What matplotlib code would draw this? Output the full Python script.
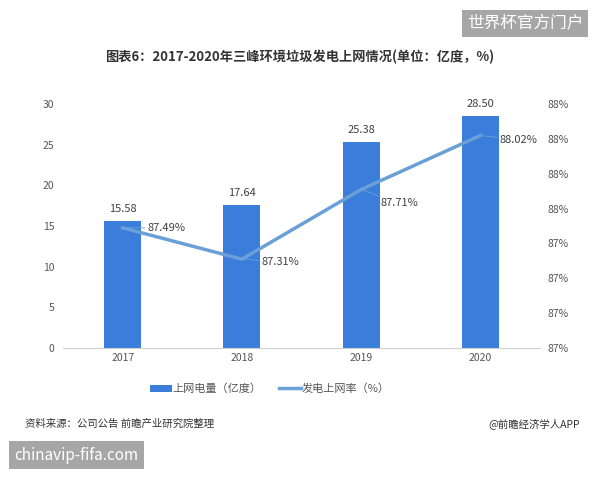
import matplotlib.pyplot as plt

plt.rcParams['font.family'] = ['Noto Sans CJK SC', 'DejaVu Sans']

years = ['2017', '2018', '2019', '2020']
power = [15.58, 17.64, 25.38, 28.50]        # 上网电量 (亿度)
rate = [87.49, 87.31, 87.71, 88.02]         # 发电上网率 (%)
rate_ticks = [86.8, 87.0, 87.2, 87.4, 87.6, 87.8, 88.0, 88.2]
# label offsets (points) for the rate labels
rate_offsets = [(18, 0), (14, -2), (14, -10), (14, -3)]

bar_color = '#3A7DDB'
line_color = '#6A9FD8'
text_color = '#555555'

fig = plt.figure(figsize=(6, 4.8), dpi=100)
ax = fig.add_axes([0.105, 0.275, 0.795, 0.508])
x = range(len(years))

ax.bar(x, power, width=0.31, color=bar_color, zorder=2, label='上网电量（亿度）')
for i, v in enumerate(power):
    ax.annotate(f'{v:.2f}', (i, v), xytext=(0, 5), textcoords='offset points',
                ha='center', va='bottom', fontsize=8, color='#404040')

ax.set_xlim(-0.5, 3.5)
ax.set_ylim(0, 30)
ax.set_yticks(range(0, 31, 5))
ax.set_xticks(list(x))
ax.set_xticklabels(years)
ax.tick_params(length=0, labelsize=7.5, labelcolor=text_color)
ax.tick_params(axis='y', pad=6)
for s in ['top', 'right', 'left']:
    ax.spines[s].set_visible(False)
ax.spines['bottom'].set_color('#D0D0D0')

ax2 = ax.twinx()
ax2.plot(x, rate, color=line_color, linewidth=2.5, zorder=3, label='发电上网率（%）')
for i, v in enumerate(rate):
    ax2.annotate(f'{v:.2f}%', (i, v), xytext=rate_offsets[i], textcoords='offset points',
                 ha='left', va='center', fontsize=8, color='#404040',
                 arrowprops=dict(arrowstyle='-', color=line_color, lw=0.6,
                                 shrinkA=0, shrinkB=0))
ax2.set_ylim(86.8, 88.2)
ax2.set_yticks(rate_ticks)
ax2.set_yticklabels([f'{t:.0f}%' for t in rate_ticks])
ax2.tick_params(length=0, labelsize=7.5, labelcolor=text_color, pad=5.5)
for s in ax2.spines.values():
    s.set_visible(False)

h1, l1 = ax.get_legend_handles_labels()
h2, l2 = ax2.get_legend_handles_labels()
fig.legend(h1 + h2, l1 + l2, loc='center', bbox_to_anchor=(0.45, 0.19), ncol=2,
           frameon=False, fontsize=8, labelcolor=text_color, handlelength=1.9,
           handleheight=0.6, handletextpad=0.1, columnspacing=1.6)

fig.text(0.5, 0.882, '图表6：2017-2020年三峰环境垃圾发电上网情况(单位：亿度，%)',
         ha='center', va='center', fontsize=9.5, fontweight='bold', color='#333333')
fig.text(0.042, 0.118, '资料来源：公司公告 前瞻产业研究院整理', ha='left', va='center',
         fontsize=7.5, color='#333333')
fig.text(0.967, 0.118, '@前瞻经济学人APP', ha='right', va='center',
         fontsize=7.5, color='#333333')

# overlay badges
fig.text(0.875, 0.952, '世界杯官方门户', ha='center', va='center', fontsize=12,
         color='white', bbox=dict(boxstyle='square,pad=0.3', fc='#A6A6A6', ec='none'))
fig.text(0.128, 0.052, 'chinavip-fifa.com', ha='center', va='center', fontsize=11,
         color='white', bbox=dict(boxstyle='square,pad=0.35', fc='#A6A6A6', ec='none'))

fig.savefig('out.png', dpi=100)
